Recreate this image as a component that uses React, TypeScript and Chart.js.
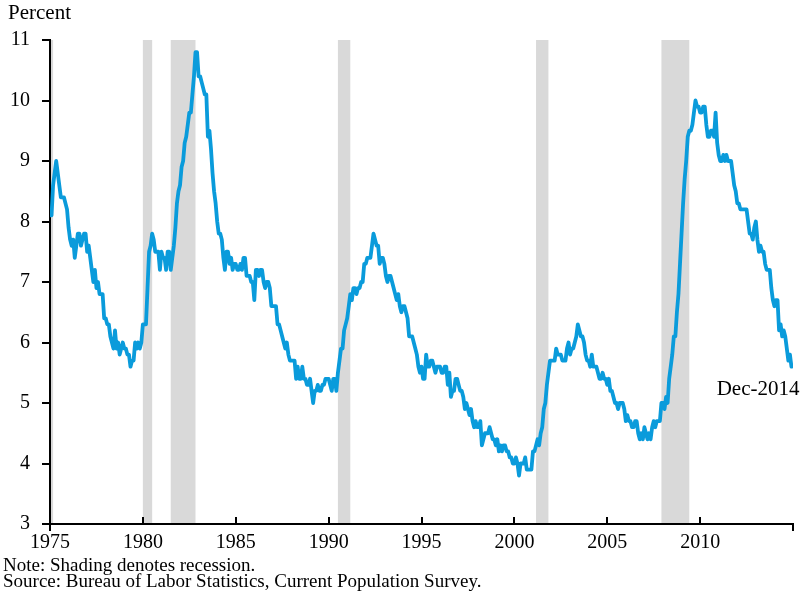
import React, { useEffect, useRef } from 'react';
import { Chart, registerables } from 'chart.js';

Chart.register(...registerables);

// Civilian unemployment rate, monthly, percent (Jan 1975 - Dec 2014)
const START_YEAR = 1975;
const rate1975to1979 = [
  8.1, 8.1, 8.6, 8.8, 9.0, 8.8, 8.6, 8.4, 8.4, 8.4, 8.3, 8.2,
  7.9, 7.7, 7.6, 7.7, 7.4, 7.6, 7.8, 7.8, 7.6, 7.7, 7.8, 7.8,
  7.5, 7.6, 7.4, 7.2, 7.0, 7.2, 6.9, 7.0, 6.8, 6.8, 6.8, 6.4,
  6.4, 6.3, 6.3, 6.1, 6.0, 5.9, 6.2, 5.9, 6.0, 5.8, 5.9, 6.0,
  5.9, 5.9, 5.8, 5.8, 5.6, 5.7, 5.7, 6.0, 5.9, 6.0, 5.9, 6.0,
];
const rate1980to1989 = [
  6.3, 6.3, 6.3, 6.9, 7.5, 7.6, 7.8, 7.7, 7.5, 7.5, 7.5, 7.2,
  7.5, 7.4, 7.4, 7.2, 7.5, 7.5, 7.2, 7.4, 7.6, 7.9, 8.3, 8.5,
  8.6, 8.9, 9.0, 9.3, 9.4, 9.6, 9.8, 9.8, 10.1, 10.4, 10.8, 10.8,
  10.4, 10.4, 10.3, 10.2, 10.1, 10.1, 9.4, 9.5, 9.2, 8.8, 8.5, 8.3,
  8.0, 7.8, 7.8, 7.7, 7.4, 7.2, 7.5, 7.5, 7.3, 7.4, 7.2, 7.3,
  7.3, 7.2, 7.2, 7.3, 7.2, 7.4, 7.4, 7.1, 7.1, 7.1, 7.0, 7.0,
  6.7, 7.2, 7.2, 7.1, 7.2, 7.2, 7.0, 6.9, 7.0, 7.0, 6.9, 6.6,
  6.6, 6.6, 6.6, 6.3, 6.3, 6.2, 6.1, 6.0, 5.9, 6.0, 5.8, 5.7,
  5.7, 5.7, 5.7, 5.4, 5.6, 5.4, 5.4, 5.6, 5.4, 5.4, 5.3, 5.3,
  5.4, 5.2, 5.0, 5.2, 5.2, 5.3, 5.2, 5.2, 5.3, 5.3, 5.4, 5.4,
];
const rate1990to1999 = [
  5.4, 5.3, 5.2, 5.4, 5.4, 5.2, 5.5, 5.7, 5.9, 5.9, 6.2, 6.3,
  6.4, 6.6, 6.8, 6.7, 6.9, 6.9, 6.8, 6.9, 6.9, 7.0, 7.0, 7.3,
  7.3, 7.4, 7.4, 7.4, 7.6, 7.8, 7.7, 7.6, 7.6, 7.3, 7.4, 7.4,
  7.3, 7.1, 7.0, 7.1, 7.1, 7.0, 6.9, 6.8, 6.7, 6.8, 6.6, 6.5,
  6.6, 6.6, 6.5, 6.4, 6.1, 6.1, 6.1, 6.0, 5.9, 5.8, 5.6, 5.5,
  5.6, 5.4, 5.4, 5.8, 5.6, 5.6, 5.7, 5.7, 5.6, 5.5, 5.6, 5.6,
  5.6, 5.5, 5.5, 5.6, 5.6, 5.3, 5.5, 5.1, 5.2, 5.2, 5.4, 5.4,
  5.3, 5.2, 5.2, 5.1, 4.9, 5.0, 4.9, 4.8, 4.9, 4.7, 4.6, 4.7,
  4.6, 4.6, 4.7, 4.3, 4.4, 4.5, 4.5, 4.5, 4.6, 4.5, 4.4, 4.4,
  4.3, 4.4, 4.2, 4.3, 4.2, 4.3, 4.3, 4.2, 4.2, 4.1, 4.1, 4.0,
];
const rate2000to2009 = [
  4.0, 4.1, 4.0, 3.8, 4.0, 4.0, 4.0, 4.1, 3.9, 3.9, 3.9, 3.9,
  4.2, 4.2, 4.3, 4.4, 4.3, 4.5, 4.6, 4.9, 5.0, 5.3, 5.5, 5.7,
  5.7, 5.7, 5.7, 5.9, 5.8, 5.8, 5.8, 5.7, 5.7, 5.7, 5.9, 6.0,
  5.8, 5.9, 5.9, 6.0, 6.1, 6.3, 6.2, 6.1, 6.1, 6.0, 5.8, 5.7,
  5.7, 5.6, 5.8, 5.6, 5.6, 5.6, 5.5, 5.4, 5.4, 5.5, 5.4, 5.4,
  5.3, 5.4, 5.2, 5.2, 5.1, 5.0, 5.0, 4.9, 5.0, 5.0, 5.0, 4.9,
  4.7, 4.8, 4.7, 4.7, 4.6, 4.6, 4.7, 4.7, 4.5, 4.4, 4.5, 4.4,
  4.6, 4.5, 4.4, 4.5, 4.4, 4.6, 4.7, 4.6, 4.7, 4.7, 4.7, 5.0,
  5.0, 4.9, 5.1, 5.0, 5.4, 5.6, 5.8, 6.1, 6.1, 6.5, 6.8, 7.3,
  7.8, 8.3, 8.7, 9.0, 9.4, 9.5, 9.5, 9.6, 9.8, 10.0, 9.9, 9.9,
];
const rate2010to2014 = [
  9.8, 9.8, 9.9, 9.9, 9.6, 9.4, 9.4, 9.5, 9.5, 9.4, 9.8, 9.3,
  9.1, 9.0, 9.0, 9.1, 9.0, 9.1, 9.0, 9.0, 9.0, 8.8, 8.6, 8.5,
  8.3, 8.3, 8.2, 8.2, 8.2, 8.2, 8.2, 8.0, 7.8, 7.8, 7.7, 7.9,
  8.0, 7.7, 7.5, 7.6, 7.5, 7.5, 7.3, 7.2, 7.2, 7.2, 6.9, 6.7,
  6.6, 6.7, 6.7, 6.2, 6.3, 6.1, 6.2, 6.1, 5.9, 5.7, 5.8, 5.6,
];

const xTickYears = [1975, 1980, 1985, 1990, 1995, 2000, 2005, 2010, 2015];
const yTickValues = [3, 4, 5, 6, 7, 8, 9, 10, 11];

// NBER recessions (start / end month)
const recessionStarts = ['1973-11', '1980-01', '1981-07', '1990-07', '2001-03', '2007-12'];
const recessionEnds = ['1975-03', '1980-07', '1982-11', '1991-03', '2001-11', '2009-06'];

const lastLabel = 'Dec-2014';
const yAxisTitle = 'Percent';
const noteText = 'Note: Shading denotes recession.';
const sourceText = 'Source: Bureau of Labor Statistics, Current Population Survey.';

const SERIF = "'Liberation Serif', 'Times New Roman', Times, serif";
const LINE_COLOR = '#0A9BDB';

const monthToYear = (s: string) => {
  const [y, m] = s.split('-').map(Number);
  return y + (m - 1) / 12;
};

const allRates = [
  ...rate1975to1979,
  ...rate1980to1989,
  ...rate1990to1999,
  ...rate2000to2009,
  ...rate2010to2014,
];

const points = allRates.map((v, i) => ({ x: START_YEAR + i / 12, y: v }));

const decorPlugin = {
  id: 'decor',
  beforeDraw(chart: any) {
    const { ctx, chartArea, scales } = chart;
    const xs = scales.x;
    ctx.save();
    ctx.fillStyle = '#D9D9D9';
    for (let i = 0; i < recessionStarts.length; i++) {
      const s = Math.max(monthToYear(recessionStarts[i]), xs.min);
      const e = monthToYear(recessionEnds[i]);
      if (e <= xs.min) continue;
      const x0 = xs.getPixelForValue(s);
      const x1 = xs.getPixelForValue(e);
      ctx.fillRect(x0, chartArea.top, x1 - x0, chartArea.bottom - chartArea.top);
    }
    ctx.restore();
  },
  afterDraw(chart: any) {
    const { ctx, chartArea, scales } = chart;
    const xs = scales.x;
    const ys = scales.y;
    ctx.save();
    ctx.strokeStyle = '#000';
    ctx.lineWidth = 2;
    ctx.beginPath();
    // x ticks: inward, ends downward
    xTickYears.forEach((yr, i) => {
      const px = Math.round(xs.getPixelForValue(yr));
      if (i === 0 || i === xTickYears.length - 1) {
        ctx.moveTo(px, chartArea.bottom);
        ctx.lineTo(px, chartArea.bottom + 7);
      } else {
        ctx.moveTo(px, chartArea.bottom);
        ctx.lineTo(px, chartArea.bottom - 7);
      }
    });
    // y ticks: outward
    yTickValues.forEach((v) => {
      const py = Math.round(ys.getPixelForValue(v));
      ctx.moveTo(chartArea.left, py);
      ctx.lineTo(chartArea.left - 8, py);
    });
    ctx.stroke();

    ctx.fillStyle = '#000';
    ctx.font = `21px ${SERIF}`;
    ctx.textBaseline = 'alphabetic';
    ctx.textAlign = 'left';
    ctx.fillText(yAxisTitle, 8, 19);

    const last = points[points.length - 1];
    const lx = xs.getPixelForValue(last.x);
    const ly = ys.getPixelForValue(last.y);
    ctx.textAlign = 'right';
    ctx.fillText(lastLabel, lx + 8, ly + 28);

    ctx.textAlign = 'left';
    ctx.font = `19px ${SERIF}`;
    ctx.fillText(noteText, 3, 571);
    ctx.fillText(sourceText, 3, 587);
    ctx.restore();
  },
};

export default function App() {
  const canvasRef = useRef<HTMLCanvasElement | null>(null);

  useEffect(() => {
    const canvas = canvasRef.current;
    if (!canvas) return;
    const chart = new Chart(canvas, {
      type: 'line',
      data: {
        datasets: [
          {
            label: 'Unemployment rate',
            data: points,
            borderColor: LINE_COLOR,
            borderWidth: 3.8,
            pointRadius: 0,
            tension: 0,
            borderJoinStyle: 'round',
            borderCapStyle: 'round',
            fill: false,
          },
        ],
      },
      options: {
        responsive: false,
        animation: false,
        devicePixelRatio: 1,
        layout: { padding: { top: 40, right: 11, left: 0, bottom: 0 } },
        plugins: {
          legend: { display: false },
          tooltip: { enabled: false },
          title: { display: false },
        },
        scales: {
          x: {
            type: 'linear',
            min: 1975,
            max: 2015,
            afterFit: (scale: any) => {
              scale.height = 71;
            },
            afterBuildTicks: (scale: any) => {
              scale.ticks = xTickYears.map((v) => ({ value: v }));
            },
            grid: { display: false, drawTicks: false },
            border: { display: true, color: '#000', width: 2 },
            ticks: {
              color: '#000',
              font: { family: SERIF, size: 20 },
              padding: 7,
              maxRotation: 0,
              autoSkip: false,
              callback: (v: any) => (Number(v) === 2015 ? '' : String(v)),
            },
          },
          y: {
            type: 'linear',
            min: 3,
            max: 11,
            afterFit: (scale: any) => {
              scale.width = 50;
            },
            afterBuildTicks: (scale: any) => {
              scale.ticks = yTickValues.map((v) => ({ value: v }));
            },
            grid: { display: false, drawTicks: false },
            border: { display: true, color: '#000', width: 2 },
            ticks: {
              color: '#000',
              font: { family: SERIF, size: 20 },
              padding: 20,
              callback: (v: any) => String(v),
            },
          },
        },
      },
      plugins: [decorPlugin],
    });
    return () => chart.destroy();
  }, []);

  return (
    <div
      style={{
        position: 'fixed',
        left: 0,
        top: 0,
        width: 804,
        height: 595,
        background: '#fff',
      }}
    >
      <canvas ref={canvasRef} width={804} height={595} style={{ display: 'block' }} />
    </div>
  );
}
